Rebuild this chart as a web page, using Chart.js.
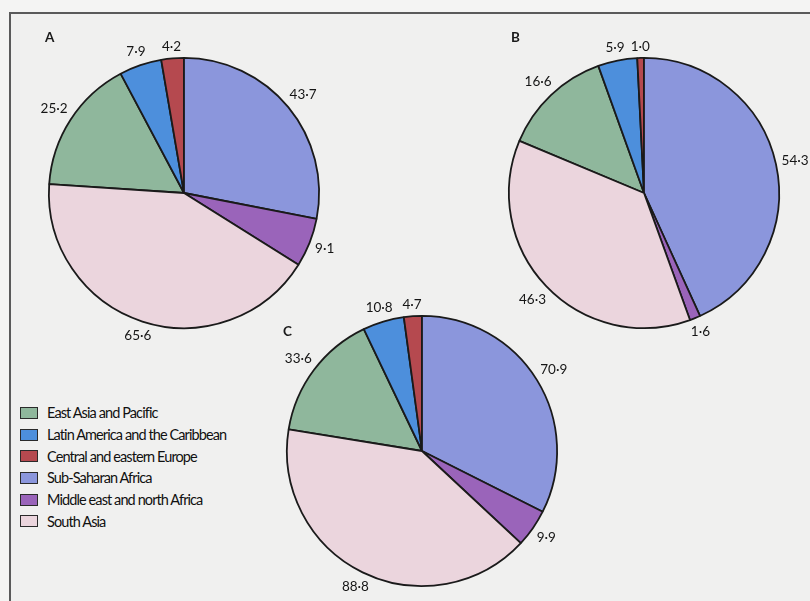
<!DOCTYPE html>
<html>
<head>
<meta charset="utf-8">
<script src="https://cdn.jsdelivr.net/npm/chart.js@4"></script>
<style>
  html, body { margin: 0; padding: 0; }
  body { width: 810px; height: 601px; background: #f4f4f3; overflow: hidden; position: relative;
         font-family: Lato, "Open Sans", sans-serif; }
  .frame { position: absolute; left: 9px; top: 12px; right: -5px; bottom: -5px;
           border-top: 2px solid #5a5a5a; border-left: 2px solid #5a5a5a; background: #f0f0ef; }
  canvas { position: absolute; }
  .panel { position: absolute; font-weight: bold; font-size: 13.5px; color: #1a1a1a; }
  .legend { position: absolute; left: 20px; top: 402px; }
  .legend div { height: 21.7px; display: flex; align-items: center; font-size: 14.5px; color: #111; letter-spacing: -0.9px; }
  .legend span.box { display: inline-block; width: 16px; height: 10px; border: 1.5px solid #2a2a2a; margin-right: 9px; }
</style>
</head>
<body>
<div class="frame"></div>
<canvas id="pieA" width="340" height="340" style="left:14px;top:23px"></canvas>
<canvas id="pieB" width="340" height="340" style="left:474px;top:23px"></canvas>
<canvas id="pieC" width="340" height="340" style="left:252px;top:281px"></canvas>
<div class="panel" style="left:45px;top:29px">A</div>
<div class="panel" style="left:511px;top:29px">B</div>
<div class="panel" style="left:283px;top:323px">C</div>
<div class="legend" id="legend"></div>
<script>
// legend order = clockwise order of slices
const categories = ['East Asia and Pacific', 'Latin America and the Caribbean', 'Central and eastern Europe',
  'Sub-Saharan Africa', 'Middle east and north Africa', 'South Asia'];
const colors = ['#8fb79c', '#4d8fdc', '#b5494f', '#8b96dc', '#9a64ba', '#ebd5dd'];

const valuesA = [25.2, 7.9, 4.2, 43.7, 9.1, 65.6];
const valuesB = [16.6, 5.9, 1.0, 54.3, 1.6, 46.3];
const valuesC = [33.6, 10.8, 4.7, 70.9, 9.9, 88.8];

// legend
const leg = document.getElementById('legend');
categories.forEach(function(c, i){
  const row = document.createElement('div');
  row.innerHTML = '<span class="box" style="background:' + colors[i] + '"></span>' + c;
  leg.appendChild(row);
});

/* labels outside the slices */
const outLabels = {
  id: 'outLabels',
  afterDatasetsDraw(chart) {
    const ctx = chart.ctx;
    const meta = chart.getDatasetMeta(0);
    const data = chart.data.datasets[0].data;
    ctx.save();
    ctx.font = '13.5px Lato, "Open Sans", sans-serif';
    ctx.fillStyle = '#151515';
    ctx.textAlign = 'center';
    ctx.textBaseline = 'middle';
    meta.data.forEach(function(arc, i){
      const p = arc.getProps(['x', 'y', 'startAngle', 'endAngle', 'outerRadius'], true);
      const mid = (p.startAngle + p.endAngle) / 2;
      const txt = data[i].toFixed(1).replace('.', '·');
      const hw = ctx.measureText(txt).width / 2;
      const d = p.outerRadius + 5 + Math.abs(Math.cos(mid)) * hw + Math.abs(Math.sin(mid)) * 6;
      ctx.fillText(txt, p.x + Math.cos(mid) * d, p.y + Math.sin(mid) * d);
    });
    ctx.restore();
  }
};

function makePie(id, values) {
  const total = values.reduce((a, b) => a + b, 0);
  // start Sub-Saharan Africa at 12 o'clock
  const before = values[0] + values[1] + values[2];
  return new Chart(document.getElementById(id), {
    type: 'pie',
    data: {
      labels: categories,
      datasets: [{
        data: values,
        backgroundColor: colors,
        borderColor: '#1a1a1a',
        borderWidth: 1.8
      }]
    },
    options: {
      responsive: false,
      animation: false,
      rotation: -before / total * 360,
      layout: { padding: 34 },
      plugins: { legend: { display: false }, tooltip: { enabled: false } }
    },
    plugins: [outLabels]
  });
}

makePie('pieA', valuesA);
makePie('pieB', valuesB);
makePie('pieC', valuesC);
</script>
</body>
</html>
